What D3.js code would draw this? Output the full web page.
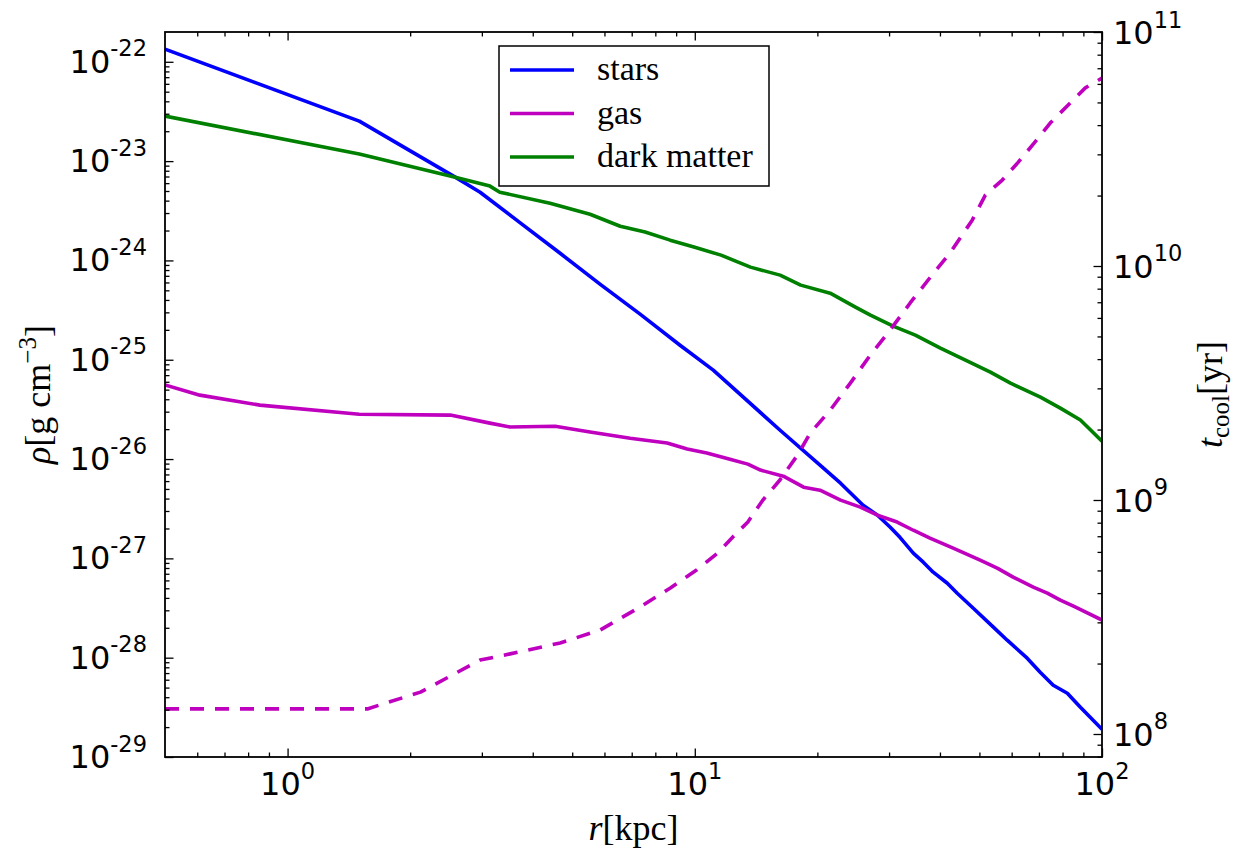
<!DOCTYPE html>
<html>
<head>
<meta charset="utf-8">
<script src="https://cdn.jsdelivr.net/npm/d3@7"></script>
<style>
  body { margin: 0; background: #fff; }
  text { fill: #000; }
</style>
</head>
<body>
<svg id="chart" width="1249" height="853"></svg>
<script>
// Radial profiles: density of stars, gas and dark matter, plus gas cooling time
const starsR   = [0.5, 1.5, 2.58, 2.97, 3.72, 4.67, 5.85, 7.34, 9.2, 11.1, 16.2, 20.3, 22.8, 25.9, 28.1, 30.2, 31.9, 34.4, 36.4, 38.5, 41.7, 44.1, 48.3, 54.1, 58.5, 65.5, 70.5, 75.9, 82.2, 88.5, 100];
const starsRho = [1.34e-22, 2.53e-23, 6.89e-24, 4.86e-24, 2.40e-24, 1.18e-24, 5.77e-25, 2.88e-25, 1.40e-25, 7.85e-26, 1.95e-26, 8.67e-27, 5.71e-27, 3.43e-27, 2.72e-27, 2.06e-27, 1.63e-27, 1.13e-27, 9.16e-28, 7.26e-28, 5.62e-28, 4.46e-28, 3.15e-28, 2.03e-28, 1.50e-28, 9.88e-29, 7.14e-29, 5.28e-29, 4.39e-29, 3.17e-29, 1.9e-29];

const gasR   = [0.5, 0.609, 0.855, 1.5, 2.51, 3.14, 3.52, 4.54, 5.53, 6.94, 8.55, 9.58, 10.7, 12.2, 13.5, 14.5, 16.5, 18.5, 20.3, 22.8, 25.5, 28.1, 31.4, 34.4, 37.8, 43.1, 50.2, 55.3, 60.5, 67.8, 73.4, 79.0, 85.1, 100];
const gasRho = [5.57e-26, 4.40e-26, 3.49e-26, 2.83e-26, 2.77e-26, 2.30e-26, 2.10e-26, 2.14e-26, 1.87e-26, 1.62e-26, 1.45e-26, 1.26e-26, 1.15e-26, 9.97e-27, 8.89e-27, 7.74e-27, 6.73e-27, 5.21e-27, 4.86e-27, 3.86e-27, 3.28e-27, 2.72e-27, 2.32e-27, 1.92e-27, 1.60e-27, 1.27e-27, 9.60e-28, 7.97e-28, 6.47e-28, 5.13e-28, 4.47e-28, 3.80e-28, 3.30e-28, 2.39e-28];

const dmR   = [0.5, 1.5, 2.58, 3.14, 3.32, 4.41, 5.53, 6.56, 7.55, 8.70, 10.0, 11.6, 12.6, 13.7, 16.2, 18.2, 21.5, 24.8, 27.0, 30.7, 34.8, 40.1, 46.2, 53.2, 59.6, 70.6, 79.0, 88.5, 100];
const dmRho = [2.84e-23, 1.18e-23, 6.89e-24, 5.60e-24, 4.86e-24, 3.77e-24, 2.92e-24, 2.21e-24, 1.93e-24, 1.60e-24, 1.36e-24, 1.13e-24, 9.84e-25, 8.56e-25, 7.11e-25, 5.64e-25, 4.68e-25, 3.39e-25, 2.81e-25, 2.18e-25, 1.77e-25, 1.31e-25, 9.93e-26, 7.50e-26, 5.81e-26, 4.20e-26, 3.26e-26, 2.47e-26, 1.51e-26];

const coolR = [0.5, 1.57, 2.12, 2.97, 3.52, 4.67, 5.85, 7.34, 8.71, 10.1, 11.4, 12.4, 13.5, 14.7, 16.2, 17.9, 19.2, 21.5, 24.1, 27.0, 30.2, 33.8, 37.9, 42.4, 48.0, 51.7, 56.9, 62.3, 68.5, 74.6, 82.6, 91.0, 100];
const coolT = [1.28e8, 1.28e8, 1.51e8, 2.07e8, 2.20e8, 2.45e8, 2.78e8, 3.49e8, 4.21e8, 5.02e8, 5.94e8, 6.95e8, 8.06e8, 1.0e9, 1.22e9, 1.56e9, 1.93e9, 2.42e9, 3.16e9, 4.17e9, 5.33e9, 6.95e9, 8.97e9, 1.14e10, 1.57e10, 2.01e10, 2.33e10, 2.78e10, 3.39e10, 4.08e10, 4.88e10, 5.77e10, 6.35e10];

// Axis ranges and tick labels
const xDomain = [0.5, 100];
const rhoDomain = [1e-29, Math.pow(10, -21.7)];
const tDomain = [Math.pow(10, 7.9017), 1e11];
const xTickExp = [0, 1, 2];
const rhoTickExp = [-29, -28, -27, -26, -25, -24, -23, -22];
const tTickExp = [8, 9, 10, 11];

const legendNames = ["stars", "gas", "dark matter"];
const colors = { stars: "#0000ff", gas: "#bf00bf", dm: "#008000" };

const svg = d3.select("#chart");
const L = 165, R = 1102, T = 32, B = 757;

const x = d3.scaleLog().domain(xDomain).range([L, R]);
const yL = d3.scaleLog().domain(rhoDomain).range([B, T]);
const yR = d3.scaleLog().domain(tDomain).range([B, T]);

function minorTicks(domain) {
  const out = [];
  const lo = Math.floor(Math.log10(domain[0])), hi = Math.ceil(Math.log10(domain[1]));
  for (let e = lo; e <= hi; e++) {
    for (let m = 2; m <= 9; m++) {
      const v = m * Math.pow(10, e);
      if (v >= domain[0] * 1.0001 && v <= domain[1] * 0.9999) out.push(v);
    }
  }
  return out;
}

svg.append("defs").append("clipPath").attr("id", "plot-clip")
  .append("rect").attr("x", L).attr("y", T).attr("width", R - L).attr("height", B - T);

// Data lines
const plot = svg.append("g").attr("clip-path", "url(#plot-clip)");
function drawLine(rs, vs, scaleY, color, dash) {
  const pts = rs.map((r, i) => [r, vs[i]]);
  const line = d3.line().x(d => x(d[0])).y(d => scaleY(d[1]));
  const p = plot.append("path").datum(pts)
    .attr("d", line).attr("fill", "none")
    .attr("stroke", color).attr("stroke-width", 3.6)
    .attr("stroke-linejoin", "round");
  if (dash) p.attr("stroke-dasharray", dash);
}
drawLine(starsR, starsRho, yL, colors.stars);
drawLine(gasR, gasRho, yL, colors.gas);
drawLine(dmR, dmRho, yL, colors.dm);
drawLine(coolR, coolT, yR, colors.gas, "14,11");

// Ticks (pointing inward)
function ticks(axisFn, scale, major, minor, transform) {
  const gMaj = svg.append("g").attr("transform", transform)
    .call(axisFn(scale).tickValues(major).tickSize(-8.5).tickFormat(""));
  const gMin = svg.append("g").attr("transform", transform)
    .call(axisFn(scale).tickValues(minor).tickSize(-4.5).tickFormat(""));
  [gMaj, gMin].forEach(g => {
    g.select(".domain").remove();
    g.selectAll("line").attr("stroke", "#000").attr("stroke-width", 1.3);
  });
}
const xMajor = xTickExp.map(e => Math.pow(10, e));
ticks(d3.axisBottom, x, xMajor, minorTicks(xDomain), `translate(0,${B})`);
ticks(d3.axisTop, x, xMajor, minorTicks(xDomain), `translate(0,${T})`);
ticks(d3.axisLeft, yL, rhoTickExp.map(e => Math.pow(10, e)), minorTicks(rhoDomain), `translate(${L},0)`);
ticks(d3.axisRight, yR, tTickExp.map(e => Math.pow(10, e)), minorTicks(tDomain), `translate(${R},0)`);

// Frame
svg.append("rect").attr("x", L).attr("y", T).attr("width", R - L).attr("height", B - T)
  .attr("fill", "none").attr("stroke", "#000").attr("stroke-width", 1.8);

// Tick labels as powers of ten
function powLabel(px, py, exp, anchor) {
  const t = svg.append("text").attr("x", px).attr("y", py)
    .attr("text-anchor", anchor)
    .style("font-family", "'DejaVu Sans', sans-serif").style("font-size", "32px");
  t.append("tspan").text("10");
  t.append("tspan").attr("dy", -16.5).style("font-size", "22.5px").text(String(exp));
}
xTickExp.forEach(e => powLabel(x(Math.pow(10, e)), 795, e, "middle"));
rhoTickExp.forEach(e => powLabel(L - 18, yL(Math.pow(10, e)) + 11, e, "end"));
tTickExp.forEach(e => powLabel(R + 11, yR(Math.pow(10, e)) + 12, e, "start"));

// Axis titles
const serif = "'Liberation Serif', 'Times New Roman', serif";
const xt = svg.append("text").attr("x", (L + R) / 2).attr("y", 840).attr("text-anchor", "middle")
  .style("font-family", serif).style("font-size", "36px");
xt.append("tspan").style("font-style", "italic").text("r");
xt.append("tspan").text("[kpc]");

const yt = svg.append("text").attr("transform", `translate(50,${(T + B) / 2}) rotate(-90)`)
  .attr("text-anchor", "middle").style("font-family", serif).style("font-size", "36px");
yt.append("tspan").style("font-style", "italic").text("ρ");
yt.append("tspan").text("[g cm");
yt.append("tspan").attr("dy", -14).style("font-size", "25px").text("−3");
yt.append("tspan").attr("dy", 14).text("]");

const rt = svg.append("text").attr("transform", `translate(1222,${(T + B) / 2}) rotate(-90)`)
  .attr("text-anchor", "middle").style("font-family", serif).style("font-size", "36px");
rt.append("tspan").style("font-style", "italic").text("t");
rt.append("tspan").attr("dy", 7).style("font-size", "25px").text("cool");
rt.append("tspan").attr("dy", -7).text("[yr]");

// Legend
const lg = svg.append("g");
lg.append("rect").attr("x", 499).attr("y", 46).attr("width", 270).attr("height", 140)
  .attr("fill", "#fff").attr("stroke", "#000").attr("stroke-width", 1.5);
const legendColors = [colors.stars, colors.gas, colors.dm];
const legendY = d3.scalePoint().domain(legendNames).range([70, 157]);
legendNames.forEach((name, i) => {
  const yy = legendY(name);
  lg.append("line").attr("x1", 510).attr("x2", 574).attr("y1", yy).attr("y2", yy)
    .attr("stroke", legendColors[i]).attr("stroke-width", 3.6);
  lg.append("text").attr("x", 597).attr("y", yy + 10)
    .style("font-family", serif).style("font-size", "34px").text(name);
});
</script>
</body>
</html>
